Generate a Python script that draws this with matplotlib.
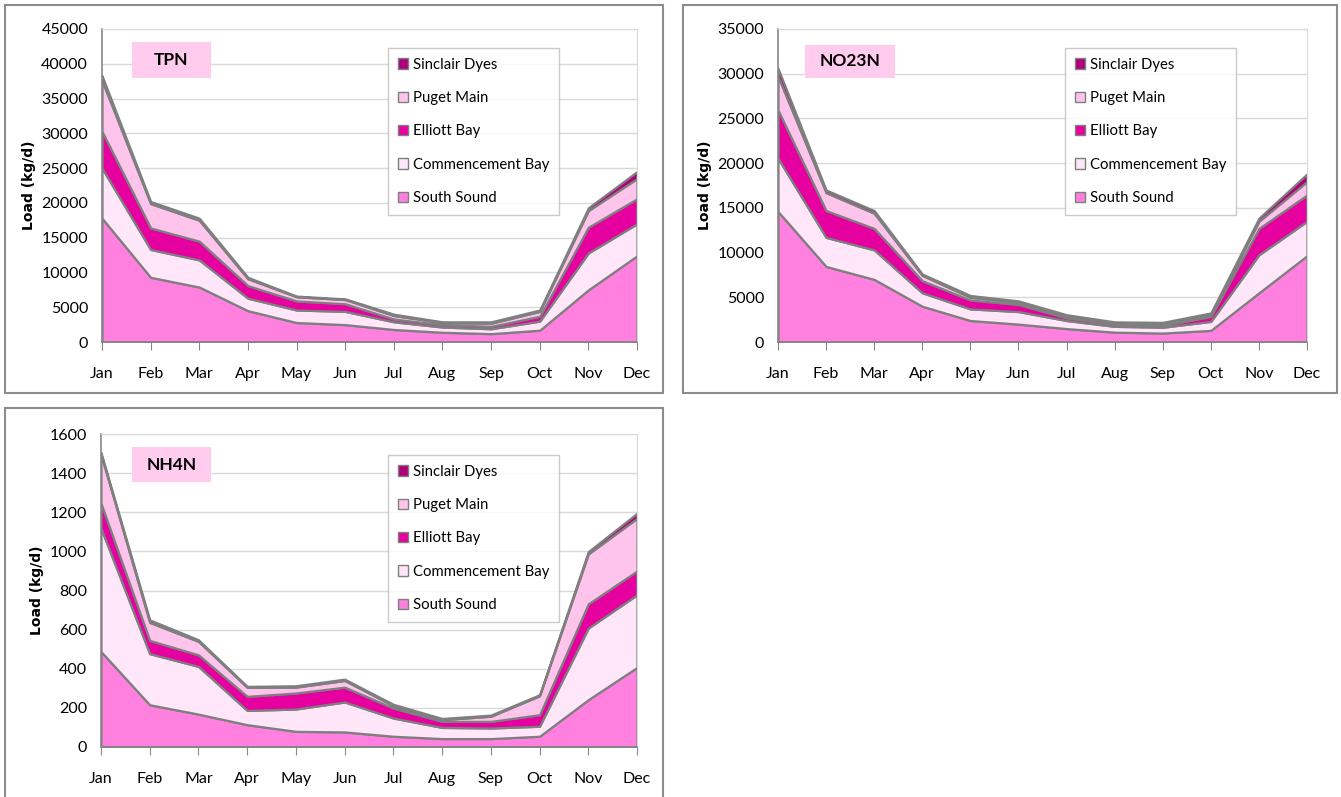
import numpy as np
import matplotlib
matplotlib.use("Agg")
import matplotlib.pyplot as plt
from matplotlib.patches import Patch, Rectangle

plt.rcParams['font.family'] = ['Lato', 'DejaVu Sans']

months = ['Jan', 'Feb', 'Mar', 'Apr', 'May', 'Jun', 'Jul', 'Aug', 'Sep', 'Oct', 'Nov', 'Dec']
series_names = ['South Sound', 'Commencement Bay', 'Elliott Bay', 'Puget Main', 'Sinclair Dyes']
series_colors = ['#FF80DF', '#FFE6F8', '#E600A0', '#FFC4EC', '#B0007A']

# TPN loads (kg/d)
tpn_south = [17800, 9300, 7900, 4500, 2800, 2500, 1800, 1400, 1200, 1700, 7500, 12400]
tpn_commencement = [7200, 4000, 3900, 1800, 1800, 1900, 1100, 750, 700, 1300, 5300, 4600]
tpn_elliott = [5300, 3100, 2700, 1800, 1300, 1100, 400, 350, 350, 700, 3700, 3600]
tpn_puget = [7300, 3500, 3000, 1000, 600, 600, 500, 300, 450, 700, 2400, 2900]
tpn_sinclair = [700, 300, 300, 200, 100, 100, 200, 100, 200, 200, 400, 1000]

# NO23N loads (kg/d)
no3_south = [14600, 8450, 7000, 4000, 2400, 2000, 1500, 1100, 1000, 1300, 5500, 9650]
no3_commencement = [5950, 3250, 3300, 1500, 1300, 1400, 900, 650, 650, 1000, 4250, 3850]
no3_elliott = [5400, 3000, 2400, 1350, 1000, 800, 300, 250, 200, 550, 2950, 2950]
no3_puget = [3750, 2000, 1700, 600, 300, 250, 250, 100, 200, 200, 800, 1500]
no3_sinclair = [900, 300, 300, 150, 200, 150, 100, 150, 150, 200, 350, 850]

# NH4N loads (kg/d)
nh4_south = [488, 216, 168, 114, 80, 77, 55, 43, 43, 55, 242, 407]
nh4_commencement = [630, 261, 244, 73, 114, 153, 93, 57, 54, 51, 366, 371]
nh4_elliott = [128, 68, 59, 72, 82, 76, 51, 31, 34, 59, 124, 122]
nh4_puget = [249, 92, 69, 46, 30, 34, 12, 9, 26, 97, 255, 269]
nh4_sinclair = [10, 13, 8, 5, 7, 7, 7, 6, 6, 5, 12, 26]

W, H = 1341, 797
fig = plt.figure(figsize=(W / 100, H / 100), dpi=100)


def px_rect(left, top, right, bottom):
    return [left / W, 1 - bottom / H, (right - left) / W, (bottom - top) / H]


def panel(frame, area, title, title_box, legend_box, layers, ymax, ystep):
    # outer chart frame
    fig.patches.append(Rectangle((frame[0] / W, 1 - frame[3] / H),
                                 (frame[2] - frame[0]) / W, (frame[3] - frame[1]) / H,
                                 transform=fig.transFigure, fill=False,
                                 edgecolor='#8C8C8C', linewidth=1.5))
    ax = fig.add_axes(px_rect(*area))
    x = np.arange(len(months))
    ax.stackplot(x, *layers, colors=series_colors, edgecolor='#7F7F7F',
                 linewidth=1.6, zorder=2)
    ax.set_xlim(0, 11)
    ax.set_ylim(0, ymax)
    ax.set_yticks(np.arange(0, ymax + 1, ystep))
    ax.set_xticks(x)
    ax.set_xticklabels(months)
    ax.grid(axis='y', color='#D9D9D9', linewidth=1, zorder=0)
    ax.set_axisbelow(True)
    for s in ['top', 'right']:
        ax.spines[s].set_color('#D9D9D9')
    for s in ['left', 'bottom']:
        ax.spines[s].set_color('#868686')
        ax.spines[s].set_linewidth(1.2)
    ax.tick_params(axis='x', length=6, color='#868686', pad=12, labelsize=11.5)
    ax.tick_params(axis='y', length=0, pad=10, labelsize=11.5)
    ax.set_ylabel('Load (kg/d)', fontweight='bold', fontsize=10, labelpad=4,
                  family=['DejaVu Sans'])

    # title box
    tx0, ty0, tx1, ty1 = title_box
    fig.patches.append(Rectangle((tx0 / W, 1 - ty1 / H), (tx1 - tx0) / W, (ty1 - ty0) / H,
                                 transform=fig.transFigure, facecolor='#FFCCEE',
                                 edgecolor='none', zorder=5))
    fig.text((tx0 + tx1) / 2 / W, 1 - (ty0 + ty1) / 2 / H, title, ha='center', va='center',
             fontsize=12.5, fontweight='bold', zorder=6)

    handles = [Patch(facecolor=c, edgecolor='#7F7F7F', linewidth=1, label=n)
               for n, c in zip(series_names, series_colors)][::-1]
    lx0, ly0, lx1, ly1 = legend_box
    leg = ax.legend(handles=handles, loc='upper left',
                    bbox_to_anchor=(lx0 / W, 1 - ly0 / H), bbox_transform=fig.transFigure,
                    fontsize=10.7, frameon=True, fancybox=False, labelspacing=1.3,
                    handlelength=0.7, handleheight=0.7, handletextpad=0.35,
                    borderpad=0.65, borderaxespad=0)
    leg.get_frame().set_edgecolor('#BFBFBF')
    leg.get_frame().set_linewidth(1)
    return ax


panel((5, 5, 663, 393), (102, 29, 637, 342), 'TPN', (132, 42, 211, 78), (388, 48, 560, 210),
      [tpn_south, tpn_commencement, tpn_elliott, tpn_puget, tpn_sinclair], 45000, 5000)
panel((683, 5, 1337, 393), (778, 29, 1307, 342), 'NO23N', (805, 45, 895, 78), (1065, 48, 1237, 210),
      [no3_south, no3_commencement, no3_elliott, no3_puget, no3_sinclair], 35000, 5000)
panel((5, 408, 663, 805), (101, 434, 637, 747), 'NH4N', (132, 447, 211, 482), (388, 455, 560, 614),
      [nh4_south, nh4_commencement, nh4_elliott, nh4_puget, nh4_sinclair], 1600, 200)

fig.savefig('out.png', dpi=100)
